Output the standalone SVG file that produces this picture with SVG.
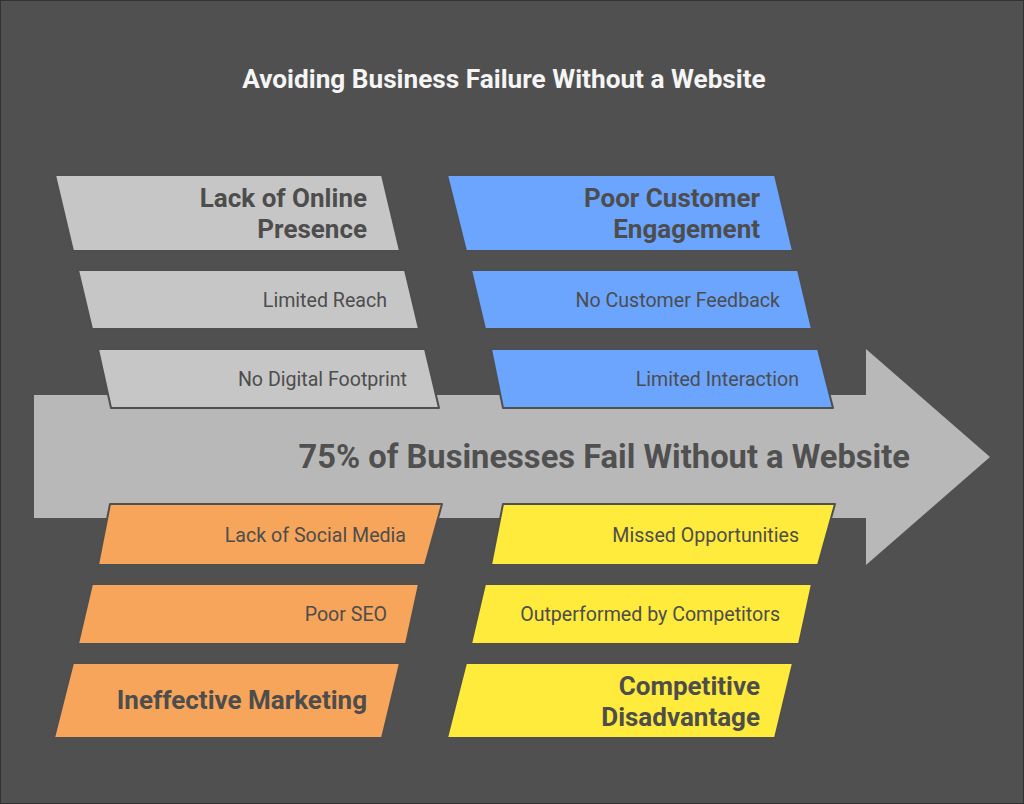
<svg xmlns="http://www.w3.org/2000/svg" width="1024" height="804" viewBox="0 0 1024 804">
<style>
.box{stroke:#4f4f4f;stroke-width:2;stroke-linejoin:round}
.g{fill:#c6c6c6}.b{fill:#6ba5fe}.o{fill:#f7a55a}.y{fill:#ffeb3b}
.h{font-family:Roboto,"Liberation Sans",sans-serif;font-weight:bold;font-size:26px;fill:#4d4d4d;text-anchor:end}
.t{font-family:Roboto,"Liberation Sans",sans-serif;font-size:19.6px;fill:#4d4d4d;text-anchor:end}
</style>
<rect x="0.5" y="0.5" width="1023" height="803" fill="#505050" stroke="#333" stroke-width="1"/>
<text x="504" y="88" font-family="Roboto,'Liberation Sans',sans-serif" font-weight="bold" font-size="26.2" fill="#f5f5f5" text-anchor="middle">Avoiding Business Failure Without a Website</text>
<g id="connectors">
<g id="spine">
<polygon points="34,395 866,395 866,349 990,457 866,565 866,518 34,518" fill="#b8b8b8"/>
<text x="910" y="468" font-family="Roboto,'Liberation Sans',sans-serif" font-weight="bold" font-size="32.7" fill="#505050" text-anchor="end">75% of Businesses Fail Without a Website</text>
</g>
</g>
<g id="lack-of-online-presence">
<polygon class="box g" points="55,175 382,175 400,251 73,251"/>
<text class="h" x="367" y="207">Lack of Online</text>
<text class="h" x="367" y="238">Presence</text>
</g>
<g id="limited-reach">
<polygon class="box g" points="78,270 405,270 419,329 92,329"/>
<text class="t" x="387" y="307">Limited Reach</text>
</g>
<g id="no-digital-footprint">
<polygon class="box g" points="98,349 425,349 439,408 111,408"/>
<text class="t" x="407" y="386">No Digital Footprint</text>
</g>
<g id="poor-customer-engagement">
<polygon class="box b" points="447,175 775,175 793,251 466,251"/>
<text class="h" x="760" y="207">Poor Customer</text>
<text class="h" x="760" y="238">Engagement</text>
</g>
<g id="no-customer-feedback">
<polygon class="box b" points="471,270 798,270 812,329 485,329"/>
<text class="t" x="780" y="307">No Customer Feedback</text>
</g>
<g id="limited-interaction">
<polygon class="box b" points="491,349 818,349 833,408 503,408"/>
<text class="t" x="799" y="386">Limited Interaction</text>
</g>
<g id="lack-of-social-media">
<polygon class="box o" points="110,504 442,504 425,565 98,565"/>
<text class="t" x="406" y="542">Lack of Social Media</text>
</g>
<g id="poor-seo">
<polygon class="box o" points="92,584 419,584 406,644 78,644"/>
<text class="t" x="387" y="621">Poor SEO</text>
</g>
<g id="ineffective-marketing">
<polygon class="box o" points="73,663 400,663 382,738 54,738"/>
<text class="h" x="367" y="709">Ineffective Marketing</text>
</g>
<g id="missed-opportunities">
<polygon class="box y" points="503,504 835,504 818,565 491,565"/>
<text class="t" x="799" y="542">Missed Opportunities</text>
</g>
<g id="outperformed-by-competitors">
<polygon class="box y" points="485,584 812,584 799,644 471,644"/>
<text class="t" x="780" y="621">Outperformed by Competitors</text>
</g>
<g id="competitive-disadvantage">
<polygon class="box y" points="466,663 793,663 775,738 447,738"/>
<text class="h" x="760" y="695">Competitive</text>
<text class="h" x="760" y="726">Disadvantage</text>
</g>
</svg>
